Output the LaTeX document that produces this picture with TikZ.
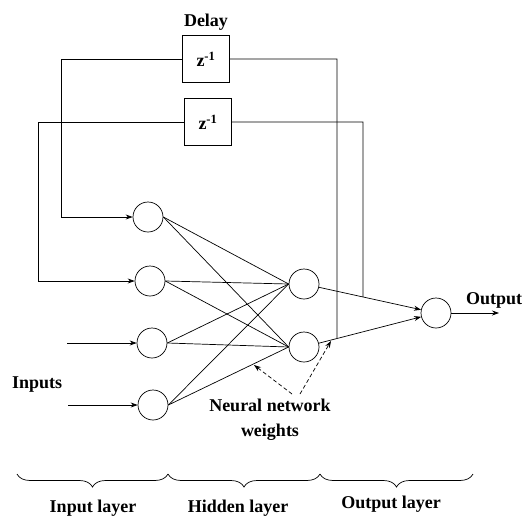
\documentclass[tikz,border=0pt]{standalone}
\usepackage{fontspec}
\setmainfont{Liberation Serif}
\usetikzlibrary{arrows.meta,decorations.pathreplacing,calc}
\tikzset{
  neuron/.style={draw,circle,minimum size=30pt,inner sep=0pt,line width=0.7pt},
  delaybox/.style={draw,minimum width=47pt,minimum height=47pt,inner sep=0pt,line width=0.7pt},
  wire/.style={line width=0.7pt},
  arr/.style={wire,-{Stealth[length=7pt,width=5pt]}},
  warr/.style={wire,dashed,dash pattern=on 4pt off 2.5pt,-{Stealth[length=7pt,width=5pt]}},
  lbl/.style={font=\fontsize{18}{25}\selectfont\bfseries,inner sep=0pt},
  brc/.style={wire,decorate,decoration={brace,mirror,amplitude=13pt}}
}
\begin{document}
\begin{tikzpicture}[x=1pt,y=-1pt]
\useasboundingbox (0,0) rectangle (528,520);
% neurons
\node[neuron] (i1) at (148,217) {};
\node[neuron] (i2) at (150,281) {};
\node[neuron] (i3) at (152,343) {};
\node[neuron] (i4) at (153,405) {};
\node[neuron] (h1) at (304,284) {};
\node[neuron] (h2) at (304,347) {};
\node[neuron] (o) at (436,313) {};
% delay boxes
\node[delaybox,lbl] (d1) at (206,59) {z\textsuperscript{-1}};
\node[delaybox,lbl] (d2) at (208,122) {z\textsuperscript{-1}};
\node[lbl] (delay) at (206,22) {Delay};
% labels
\node[lbl,anchor=west] (inputs) at (12,385) {Inputs};
\node[lbl,anchor=west] (outlbl) at (466,300) {Output};
\node[lbl,align=center] (weights) at (270,420) {Neural network\\weights};
\node[lbl] (il) at (93,508) {Input layer};
\node[lbl] (hl) at (238,508) {Hidden layer};
\node[lbl] (ol) at (391,504) {Output layer};
% weights
\foreach \a in {i1,i2,i3,i4}{
  \foreach \b in {h1,h2}{
    \draw[wire] (\a.east) -- (\b.west);
  }
}
\draw[arr] (h1) -- (o);
\draw[arr] (h2) -- (o);
% feedback
\coordinate (c1) at (61,59);
\coordinate (c1b) at (61,217);
\coordinate (c2) at (38,122);
\coordinate (c2b) at (38,281);
\coordinate (e1) at (337,59);
\coordinate (e2) at (363,122);
\coordinate (t2) at (intersection of h2--o and 337,0--337,500);
\coordinate (t1) at (intersection of h1--o and 363,0--363,500);
\draw[wire] (t2) -- (e1) -- (d1.east);
\draw[arr] (d1.west) -- (c1) -- (c1b) -- (i1.west);
\draw[wire] (t1) -- (e2) -- (d2.east);
\draw[arr] (d2.west) -- (c2) -- (c2b) -- (i2.west);
% inputs / output
\coordinate (in3) at (67,343);
\coordinate (in4) at (68,405);
\coordinate (out) at (499,313);
\draw[arr] (in3) -- (i3.west);
\draw[arr] (in4) -- (i4.west);
\draw[arr] (o.east) -- (out);
% weights pointers
\coordinate (w1s) at (292,394);
\coordinate (w1e) at (254,365);
\coordinate (w2s) at (300,394);
\coordinate (w2e) at (331,341);
\draw[warr] (w1s) -- (w1e);
\draw[warr] (w2s) -- (w2e);
% braces
\coordinate (b0) at (17,474);
\coordinate (b1) at (168,474);
\coordinate (b2) at (320,474);
\coordinate (b3) at (473,474);
\draw[brc] (b0) -- (b1);
\draw[brc] (b1) -- (b2);
\draw[brc] (b2) -- (b3);
\end{tikzpicture}
\end{document}
